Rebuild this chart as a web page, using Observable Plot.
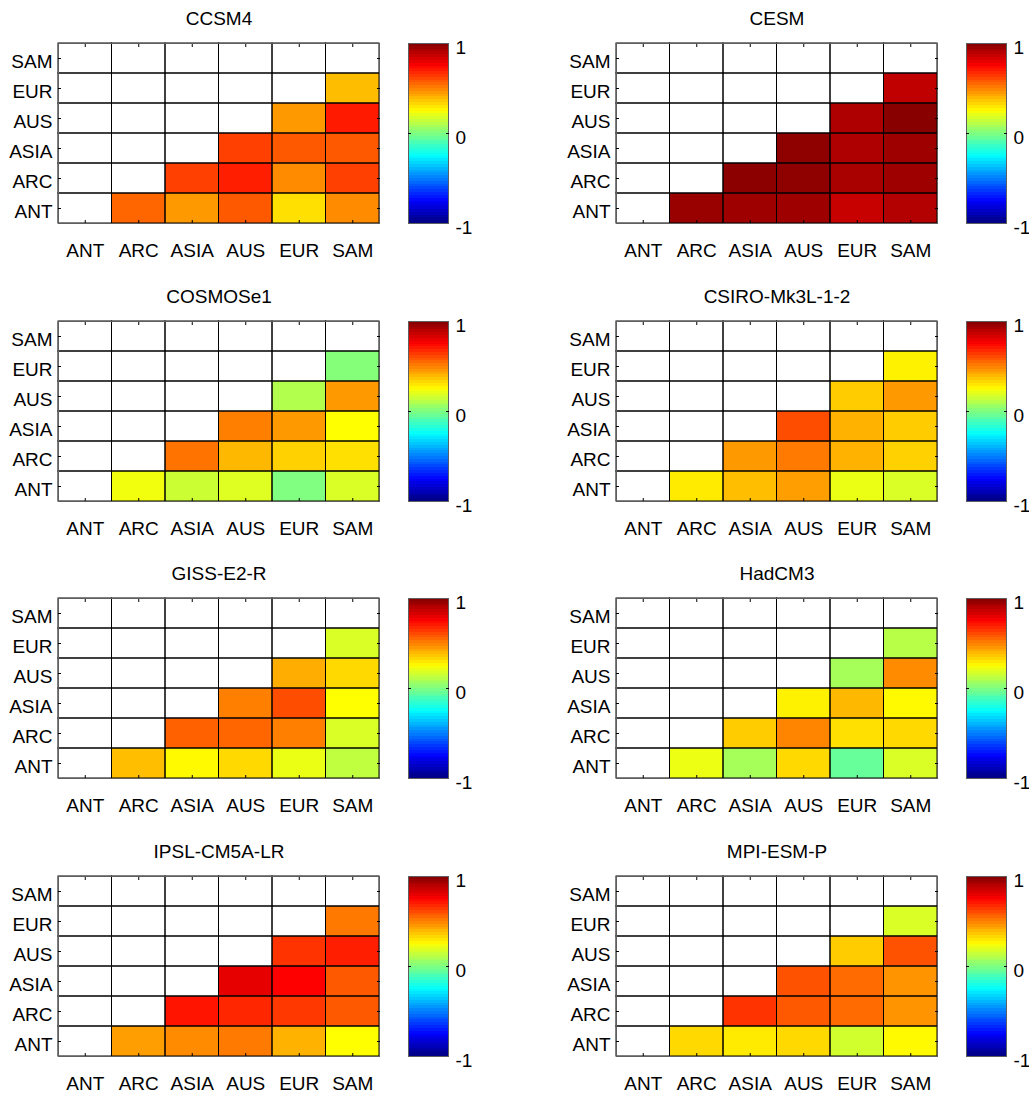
<!DOCTYPE html>
<html><head><meta charset="utf-8">
<script src="https://cdn.jsdelivr.net/npm/d3@7"></script>
<script src="https://cdn.jsdelivr.net/npm/@observablehq/plot@0.6"></script>
<style>
html,body{margin:0;padding:0;background:#fff;overflow:hidden}
#root{position:relative;width:1029px;height:1095px;overflow:hidden;font-family:"Liberation Sans",Arial,sans-serif}
#root > div{position:absolute;overflow:visible}
#root svg{max-width:none !important}
</style></head><body><div id="root"></div>
<script>
// Regions (same order on both axes; rows drawn bottom-to-top)
const regions = ["ANT", "ARC", "ASIA", "AUS", "EUR", "SAM"];
const models = ["CCSM4", "CESM", "COSMOSe1", "CSIRO-Mk3L-1-2", "GISS-E2-R", "HadCM3", "IPSL-CM5A-LR", "MPI-ESM-P"];
// Pair order: ANT-ARC, ANT-ASIA, ANT-AUS, ANT-EUR, ANT-SAM, ARC-ASIA, ARC-AUS, ARC-EUR, ARC-SAM,
//             ASIA-AUS, ASIA-EUR, ASIA-SAM, AUS-EUR, AUS-SAM, EUR-SAM
const ccsm4    = [0.55, 0.45, 0.575, 0.31, 0.475, 0.625, 0.69, 0.475, 0.625, 0.625, 0.575, 0.575, 0.45, 0.70, 0.38];
const cesm     = [0.95, 0.94, 0.94, 0.86, 0.90, 0.975, 0.97, 0.92, 0.94, 0.97, 0.91, 0.94, 0.91, 0.985, 0.875];
const cosmos   = [0.225, 0.15, 0.185, 0.0, 0.175, 0.525, 0.39, 0.34, 0.31, 0.5, 0.45, 0.25, 0.1, 0.45, 0.01];
const csiro    = [0.29, 0.375, 0.44, 0.21, 0.175, 0.45, 0.51, 0.4, 0.34, 0.6, 0.4, 0.35, 0.35, 0.45, 0.275];
const giss     = [0.375, 0.26, 0.325, 0.21, 0.125, 0.56, 0.55, 0.5, 0.175, 0.5, 0.6, 0.25, 0.41, 0.325, 0.175];
const hadcm3   = [0.215, 0.075, 0.325, -0.05, 0.175, 0.35, 0.49, 0.31, 0.325, 0.275, 0.39, 0.26, 0.075, 0.475, 0.11];
const ipsl     = [0.44, 0.475, 0.51, 0.4, 0.25, 0.71, 0.675, 0.64, 0.575, 0.8, 0.75, 0.575, 0.65, 0.69, 0.515];
const mpi      = [0.325, 0.29, 0.325, 0.16, 0.26, 0.65, 0.575, 0.54, 0.46, 0.59, 0.54, 0.46, 0.35, 0.59, 0.175];
const modelValues = [ccsm4, cesm, cosmos, csiro, giss, hadcm3, ipsl, mpi];
const colorTicks = [-1, 0, 1];
const colorSteps = d3.range(64);

// MATLAB "jet" colormap as a piecewise-linear color scale over [-1, 1]
const jetDomain = [-1, -0.75, -0.25, 0.25, 0.75, 1];
const jetRange = ["#000080", "#0000ff", "#00ffff", "#ffff00", "#ff0000", "#800000"];
const colorScale = {type: "linear", domain: jetDomain, range: jetRange, interpolate: "rgb", clamp: true};

const FONT = "'Liberation Sans', Arial, Helvetica, sans-serif";
const root = document.getElementById("root");
const COLX = 558, ROWY = 277.7;
const centers = regions.map((_, i) => i + 0.5);
const svgStyle = {fontFamily: FONT, fontSize: "19px", color: "black", background: "transparent", overflow: "visible", maxWidth: "none"};

models.forEach((name, m) => {
  const col = m % 2, row = Math.floor(m / 2);
  const left = col * COLX, top = Math.round(row * ROWY);
  const vals = modelValues[m];
  const cells = [];
  let k = 0;
  for (let i = 0; i < 6; i++) for (let j = 0; j < 6; j++) cells.push({row: i, col: j, value: j > i ? vals[k++] : null});

  const heat = Plot.plot({
    width: 390, height: 268, marginLeft: 58, marginRight: 11, marginTop: 43, marginBottom: 45,
    style: svgStyle,
    x: {type: "linear", domain: [0, 6], axis: null, label: null},
    y: {type: "linear", domain: [0, 6], axis: null, label: null},
    color: colorScale,
    marks: [
      Plot.rect(cells, {x1: "col", x2: d => d.col + 1, y1: "row", y2: d => d.row + 1, fill: "white"}),
      Plot.rect(cells.filter(d => d.value != null), {x1: "col", x2: d => d.col + 1, y1: "row", y2: d => d.row + 1, fill: "value"}),
      Plot.rect(cells, {x1: "col", x2: d => d.col + 1, y1: "row", y2: d => d.row + 1, fill: null, stroke: "black", strokeWidth: 1}),
      Plot.frame({stroke: "#5f5f5f", strokeWidth: 1}),
      Plot.axisX({anchor: "bottom", ticks: centers, tickSize: 0, tickPadding: 20, label: null, tickFormat: d => regions[Math.round(d - 0.5)], fontSize: 19}),
      Plot.axisY({anchor: "left", ticks: centers, tickSize: 0, tickPadding: 6, dy: 3, label: null, tickFormat: d => regions[Math.round(d - 0.5)], fontSize: 19}),
      Plot.axisX({anchor: "bottom", ticks: centers, tickSize: -3, label: null, tickFormat: () => ""}),
      Plot.axisX({anchor: "top", ticks: centers, tickSize: -3, label: null, tickFormat: () => ""}),
      Plot.axisY({anchor: "left", ticks: centers, tickSize: -3, label: null, tickFormat: () => ""}),
      Plot.axisY({anchor: "right", ticks: centers, tickSize: -3, label: null, tickFormat: () => ""}),
      Plot.text([name], {text: d => d, frameAnchor: "top", dy: -19, lineAnchor: "bottom", fontSize: 19})
    ]
  });
  const d1 = document.createElement("div");
  d1.style.left = left + "px"; d1.style.top = top + "px"; d1.style.width = "390px"; d1.style.height = "268px";
  d1.appendChild(heat);
  root.appendChild(d1);

  const bar = Plot.plot({
    width: 80, height: 268, marginLeft: 8, marginRight: 32, marginTop: 43, marginBottom: 45,
    style: svgStyle,
    x: {type: "linear", domain: [0, 1], axis: null, label: null},
    y: {type: "linear", domain: [-1, 1], axis: null, label: null},
    color: colorScale,
    marks: [
      Plot.rect(colorSteps, {x1: 0, x2: 1, y1: i => -1 + 2 * i / 64, y2: i => -1 + 2 * (i + 1) / 64, fill: i => -1 + 2 * (i + 0.5) / 64, shapeRendering: "crispEdges"}),
      Plot.frame({stroke: "#5f5f5f", strokeWidth: 1}),
      Plot.axisY({anchor: "right", ticks: colorTicks, tickSize: 0, tickPadding: 7, dy: 4, label: null, tickFormat: d => String(d), fontSize: 19}),
      Plot.axisY({anchor: "left", ticks: [0], tickSize: -3, label: null, tickFormat: () => ""}),
      Plot.axisY({anchor: "right", ticks: [0], tickSize: -3, label: null, tickFormat: () => ""})
    ]
  });
  const d2 = document.createElement("div");
  d2.style.left = (left + 400) + "px"; d2.style.top = top + "px"; d2.style.width = "80px"; d2.style.height = "268px";
  d2.appendChild(bar);
  root.appendChild(d2);
});
</script>
</body></html>
